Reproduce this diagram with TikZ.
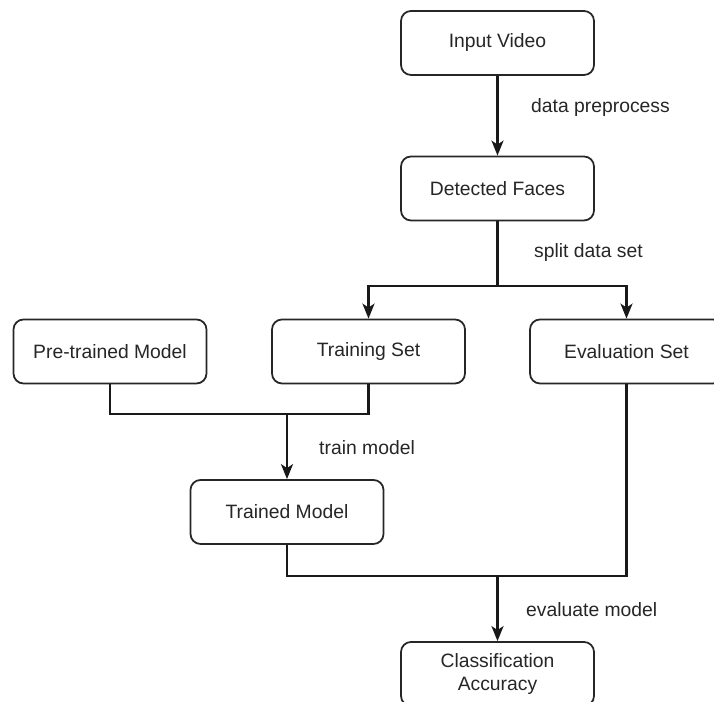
\documentclass[tikz,border=0pt]{standalone}
\usepackage{fontspec}
\setmainfont{Liberation Sans}
\usetikzlibrary{arrows.meta}

\begin{document}
\begin{tikzpicture}[
  box/.style={draw=black!85,line width=1pt,rounded corners=0.2cm,fill=white,
    minimum width=3.86cm,minimum height=1.28cm,align=center,
    font=\fontsize{11}{13}\selectfont,text=black!85},
  link/.style={draw=black!90,line width=1.3pt},
  arr/.style={link,-{Stealth[length=0.3cm,width=0.24cm,inset=0.08cm]}},
  lab/.style={anchor=west,font=\fontsize{11}{13}\selectfont,text=black!85}]
\useasboundingbox (0,0) rectangle (14.28,14.04);
\node[box] at (9.95,13.18) (vid) {Input Video};
\node[box] at (9.95,10.27) (faces) {Detected Faces};
\node[box] at (2.2,7.01) (pretrained) {Pre-trained Model};
\node[box] at (7.37,7.01) (trainset) {Training Set};
\node[box] at (12.53,7.01) (evalset) {Evaluation Set};
\node[box] at (5.74,3.80) (trained) {Trained Model};
\node[box] at (9.95,0.56) (accuracy) {Classification\\Accuracy};
\coordinate (split) at (9.95,8.32);
\coordinate (join) at (5.74,5.76);
\coordinate (meet) at (9.95,2.52);
\draw[arr] (vid) -- (faces);
\draw[link] (faces) -- (split);
\draw[arr] (split) -| (trainset);
\draw[arr] (split) -| (evalset);
\draw[link] (pretrained) |- (join);
\draw[link] (trainset) |- (join);
\draw[arr] (join) -- (trained);
\draw[link] (trained) |- (meet);
\draw[link] (evalset) |- (meet);
\draw[arr] (meet) -- (accuracy);
\node[lab] at (10.5,11.88) (preproc) {data preprocess};
\node[lab] at (10.56,8.98) (splitlab) {split data set};
\node[lab] at (6.26,5.08) (trainlab) {train model};
\node[lab] at (10.4,1.84) (evallab) {evaluate model};
\end{tikzpicture}
\end{document}
